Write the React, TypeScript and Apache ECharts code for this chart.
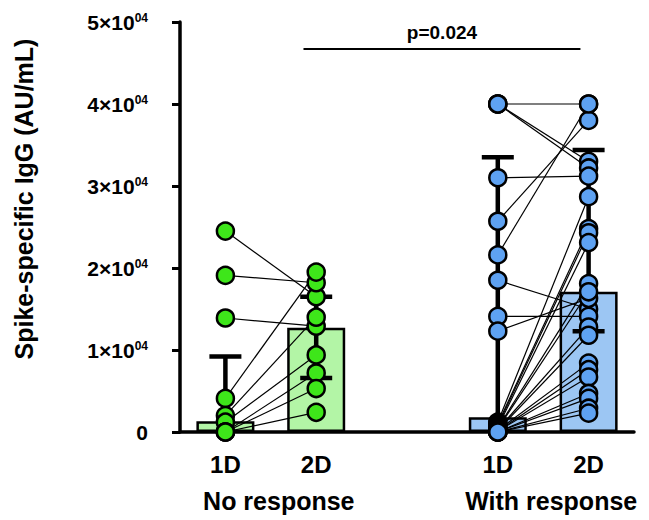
import React, { useEffect, useRef } from "react";
import * as echarts from "echarts";

// ---- data ----
const categories = ["1D", "2D", "", "1D", "2D"];
const groupLabels = ["No response", "With response"];

// paired subjects: dose 1 -> dose 2
const noResp1D = [24500, 19100, 13900, 4100, 2000, 1200, 0, 0, 0];
const noResp2D = [16500, 18200, 12900, 19500, 14000, 9400, 7200, 5300, 2400];

const withResp1D = [
  40000, 40000, 40000, 31000, 25700, 21600, 18500, 14100, 12300,
  1200, 1000, 800, 600, 500, 400, 300, 200, 200, 100, 100, 0, 0, 0, 0,
];
const withResp2D = [
  40000, 33000, 32200, 31200, 38000, 40000, 15000, 14100, 16300,
  28700, 24800, 24300, 23100, 18100, 17100, 12800, 11800, 8400, 7600, 6700, 4700, 4100, 2900, 2300,
];

// bar heights and error bar ends per category (null = none)
const barValues = [1300, 12700, null, 1800, 17100];
const errHigh = [9200, 16500, null, 33500, 34400];
const errLow = [null, 6600, null, null, 12300];

const yTicks = [0, 10000, 20000, 30000, 40000, 50000];
const pText = "p=0.024";

// ---- annotation placement (x in category units, y in data units) ----
const pBracket = { x1: 0.86, x2: 3.91, y: 46700 };

// ---- styles ----
const FONT = "Liberation Sans, Arial, Helvetica, sans-serif";
const GREEN_BAR = "#b3f5a6";
const GREEN_DOT = "#3ee61a";
const BLUE_BAR = "#9cc6f3";
const BLUE_DOT = "#5ea2f2";

export default function App() {
  const ref = useRef<HTMLDivElement>(null);

  useEffect(() => {
    if (!ref.current) return;
    const chart = echarts.init(ref.current, undefined, { renderer: "svg" });

    const pairLines: number[][] = [];
    noResp1D.forEach((v, i) => pairLines.push([0, v, 1, noResp2D[i]]));
    withResp1D.forEach((v, i) => pairLines.push([3, v, 4, withResp2D[i]]));

    const errData: number[][] = [];
    barValues.forEach((b, i) => {
      if (b == null || errHigh[i] == null) return;
      const lo = errLow[i];
      errData.push([i, errHigh[i] as number, lo == null ? b : lo, lo == null ? 0 : 1]);
    });

    const dot = (color: string) => ({
      color,
      borderColor: "#000",
      borderWidth: 2.5,
      opacity: 1,
    });

    const scatter = (color: string, x: number, vals: number[]) => ({
      type: "scatter",
      xAxisIndex: 1,
      yAxisIndex: 0,
      z: 4,
      symbolSize: 17,
      itemStyle: dot(color),
      data: vals.map((v) => [x, v]),
    });

    const option: any = {
      animation: false,
      backgroundColor: "#fff",
      grid: { left: 180, right: 15, top: 22, bottom: 88 },
      xAxis: [
        {
          type: "category",
          data: categories.map((_, i) => "c" + i),
          boundaryGap: true,
          axisLine: { lineStyle: { color: "#000", width: 3.5 } },
          axisTick: { alignWithLabel: true, length: 8, lineStyle: { color: "#000", width: 3 } },
          axisLabel: {
            formatter: (_: string, i: number) => categories[i],
            margin: 20,
            color: "#000",
            fontSize: 24,
            fontWeight: "bold",
            fontFamily: FONT,
            interval: 0,
          },
          splitLine: { show: false },
        },
        {
          type: "value",
          min: -0.5,
          max: 4.5,
          interval: 0.5,
          position: "bottom",
          offset: 0,
          axisLine: { show: false },
          axisTick: { show: false },
          splitLine: { show: false },
          axisLabel: {
            formatter: (v: number) => (v === 0.5 ? groupLabels[0] : v === 3.5 ? groupLabels[1] : ""),
            margin: 56,
            color: "#000",
            fontSize: 25,
            fontWeight: "bold",
            fontFamily: FONT,
            padding: [0, 0, 0, 16],
          },
        },
      ],
      yAxis: {
        type: "value",
        min: yTicks[0],
        max: yTicks[yTicks.length - 1],
        interval: 10000,
        axisLine: { show: true, onZero: false, lineStyle: { color: "#000", width: 3.5 } },
        axisTick: { show: true, length: 8, lineStyle: { color: "#000", width: 3 } },
        splitLine: { show: false },
        axisLabel: {
          margin: 32,
          formatter: (v: number) => (v === 0 ? "{a|0}" : `{a|${v / 10000}×10}{b|04}`),
          rich: {
            a: { fontSize: 21, fontWeight: "bold", fontFamily: FONT, color: "#000" },
            b: {
              fontSize: 12,
              fontWeight: "bold",
              fontFamily: FONT,
              color: "#000",
              verticalAlign: "top",
              lineHeight: 12,
            },
          },
        },
      },
      graphic: [
        {
          type: "text",
          x: 24,
          y: 199,
          rotation: Math.PI / 2,
          style: {
            text: "Spike-specific IgG (AU/mL)",
            font: `bold 25px ${FONT}`,
            fill: "#000",
            textAlign: "center",
            textVerticalAlign: "middle",
          },
        },
      ],
      series: [
        {
          type: "bar",
          xAxisIndex: 0,
          yAxisIndex: 0,
          barWidth: 58,
          z: 1,
          data: barValues.map((v, i) =>
            v == null
              ? "-"
              : {
                  value: v,
                  itemStyle: {
                    color: i < 2 ? GREEN_BAR : BLUE_BAR,
                    borderColor: "#000",
                    borderWidth: 2.5,
                  },
                }
          ),
        },
        {
          type: "custom",
          xAxisIndex: 1,
          yAxisIndex: 0,
          z: 2,
          data: errData,
          encode: { x: 0, y: [1, 2] },
          renderItem: (params: any, api: any) => {
            const x = api.value(0);
            const hi = api.coord([x, api.value(1)]);
            const lo = api.coord([x, api.value(2)]);
            const half = 16;
            const st = { stroke: "#000", lineWidth: 4.5 };
            const children: any[] = [
              { type: "line", shape: { x1: hi[0], y1: hi[1], x2: lo[0], y2: lo[1] }, style: st },
              { type: "line", shape: { x1: hi[0] - half, y1: hi[1], x2: hi[0] + half, y2: hi[1] }, style: st },
            ];
            if (api.value(3) === 1) {
              children.push({
                type: "line",
                shape: { x1: lo[0] - half, y1: lo[1], x2: lo[0] + half, y2: lo[1] },
                style: st,
              });
            }
            return { type: "group", children };
          },
        },
        {
          type: "custom",
          xAxisIndex: 1,
          yAxisIndex: 0,
          z: 3,
          data: pairLines,
          encode: { x: [0, 2], y: [1, 3] },
          renderItem: (params: any, api: any) => {
            const a = api.coord([api.value(0), api.value(1)]);
            const b = api.coord([api.value(2), api.value(3)]);
            return {
              type: "line",
              shape: { x1: a[0], y1: a[1], x2: b[0], y2: b[1] },
              style: { stroke: "#000", lineWidth: 1.2 },
            };
          },
        },
        scatter(GREEN_DOT, 0, noResp1D),
        scatter(GREEN_DOT, 1, noResp2D),
        scatter(BLUE_DOT, 3, withResp1D),
        scatter(BLUE_DOT, 4, withResp2D),
        {
          type: "custom",
          xAxisIndex: 1,
          yAxisIndex: 0,
          z: 5,
          clip: false,
          data: [[pBracket.x1, pBracket.y, pBracket.x2]],
          encode: { x: [0, 2], y: 1 },
          renderItem: (params: any, api: any) => {
            const a = api.coord([api.value(0), api.value(1)]);
            const b = api.coord([api.value(2), api.value(1)]);
            return {
              type: "group",
              children: [
                {
                  type: "line",
                  shape: { x1: a[0], y1: a[1], x2: b[0], y2: b[1] },
                  style: { stroke: "#000", lineWidth: 2 },
                },
                {
                  type: "text",
                  x: (a[0] + b[0]) / 2,
                  y: a[1] - 17,
                  style: {
                    text: pText,
                    font: `bold 19px ${FONT}`,
                    fill: "#000",
                    textAlign: "center",
                    textVerticalAlign: "middle",
                  },
                },
              ],
            };
          },
        },
      ],
    };

    chart.setOption(option);
    return () => chart.dispose();
  }, []);

  return (
    <div
      ref={ref}
      style={{ position: "fixed", left: 0, top: 0, width: 649, height: 520, background: "#fff" }}
    />
  );
}
